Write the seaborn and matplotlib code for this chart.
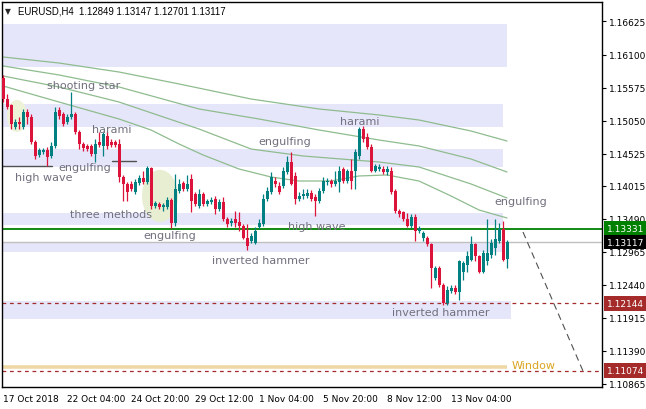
import numpy as np
import pandas as pd
import seaborn as sns
import matplotlib.pyplot as plt
from matplotlib.patches import Ellipse

# ---- candle data (EURUSD H4) ----
opens = [1.1572, 1.1540, 1.1529, 1.1495, 1.1503, 1.1495, 1.1519, 1.1511, 1.1471, 1.1450,
         1.1455, 1.1458, 1.1449, 1.1465, 1.1521, 1.1516, 1.1503, 1.1511, 1.1516, 1.1487,
         1.1468, 1.1465, 1.1465, 1.1452, 1.1471, 1.1465, 1.1481, 1.1471, 1.1471, 1.1468,
         1.1415, 1.1404, 1.1404, 1.1391, 1.1406, 1.1414, 1.1407, 1.1430, 1.1369, 1.1372,
         1.1367, 1.1367, 1.1378, 1.1342, 1.1393, 1.1406, 1.1396, 1.1412, 1.1388, 1.1369,
         1.1388, 1.1372, 1.1375, 1.1380, 1.1364, 1.1375, 1.1348, 1.1342, 1.1348, 1.1343,
         1.1337, 1.1319, 1.1313, 1.1311, 1.1335, 1.1340, 1.1380, 1.1391, 1.1409, 1.1401,
         1.1401, 1.1423, 1.1439, 1.1417, 1.1380, 1.1385, 1.1385, 1.1390, 1.1383, 1.1377,
         1.1393, 1.1407, 1.1409, 1.1404, 1.1407, 1.1428, 1.1409, 1.1425, 1.1425, 1.1449,
         1.1492, 1.1479, 1.1463, 1.1425, 1.1428, 1.1428, 1.1423, 1.1425, 1.1393, 1.1361,
         1.1359, 1.1348, 1.1337, 1.1351, 1.1329, 1.1318, 1.1318, 1.1308, 1.1255, 1.1271,
         1.1244, 1.1215, 1.1234, 1.1239, 1.1233, 1.1265, 1.1276, 1.1284, 1.1308, 1.1289,
         1.1265, 1.1281, 1.1292, 1.1303, 1.1313, 1.1332, 1.12849]
highs = [1.1578, 1.1548, 1.1532, 1.1508, 1.1511, 1.1524, 1.1524, 1.1516, 1.1474, 1.1462,
         1.1462, 1.1463, 1.1471, 1.1527, 1.1527, 1.1519, 1.1516, 1.1551, 1.1519, 1.1490,
         1.1471, 1.1468, 1.1468, 1.1476, 1.1487, 1.1487, 1.1489, 1.1476, 1.1474, 1.1476,
         1.1418, 1.1407, 1.1409, 1.1412, 1.1418, 1.1425, 1.1433, 1.1431, 1.1377, 1.1375,
         1.1374, 1.1383, 1.1382, 1.1420, 1.1412, 1.1409, 1.1418, 1.1420, 1.1391, 1.1396,
         1.1391, 1.1380, 1.1383, 1.1385, 1.1380, 1.1383, 1.1351, 1.1350, 1.1361, 1.1359,
         1.1340, 1.1340, 1.1326, 1.1335, 1.1348, 1.1388, 1.1399, 1.1423, 1.1415, 1.1407,
         1.1431, 1.1449, 1.1455, 1.1423, 1.1391, 1.1396, 1.1396, 1.1394, 1.1388, 1.1398,
         1.1415, 1.1414, 1.1412, 1.1425, 1.1433, 1.1431, 1.1428, 1.1444, 1.1460, 1.1495,
         1.1497, 1.1486, 1.1468, 1.1436, 1.1436, 1.1433, 1.1433, 1.1431, 1.1396, 1.1364,
         1.1361, 1.1358, 1.1356, 1.1356, 1.1337, 1.1330, 1.1321, 1.1311, 1.1274, 1.1274,
         1.1247, 1.1242, 1.1244, 1.1244, 1.1284, 1.1282, 1.1297, 1.1321, 1.1311, 1.1292,
         1.1300, 1.1348, 1.1316, 1.1348, 1.1342, 1.1345, 1.13147]
lows = [1.1535, 1.1524, 1.1492, 1.1492, 1.1492, 1.1492, 1.1500, 1.1468, 1.1444, 1.1447,
        1.1452, 1.1433, 1.1446, 1.1462, 1.1508, 1.1497, 1.1500, 1.1508, 1.1484, 1.1460,
        1.1457, 1.1457, 1.1449, 1.1439, 1.1463, 1.1449, 1.1460, 1.1463, 1.1463, 1.1407,
        1.1377, 1.1377, 1.1393, 1.1388, 1.1402, 1.1404, 1.1404, 1.1364, 1.1366, 1.1364,
        1.1362, 1.1364, 1.1334, 1.1338, 1.1390, 1.1393, 1.1393, 1.1359, 1.1369, 1.1366,
        1.1369, 1.1369, 1.1372, 1.1356, 1.1361, 1.1345, 1.1335, 1.1338, 1.1335, 1.1329,
        1.1316, 1.1300, 1.1310, 1.1308, 1.1332, 1.1337, 1.1377, 1.1388, 1.1399, 1.1388,
        1.1398, 1.1420, 1.1402, 1.1372, 1.1377, 1.1380, 1.1382, 1.1377, 1.1353, 1.1374,
        1.1390, 1.1402, 1.1399, 1.1401, 1.1391, 1.1406, 1.1406, 1.1396, 1.1396, 1.1444,
        1.1471, 1.1460, 1.1423, 1.1423, 1.1425, 1.1420, 1.1418, 1.1388, 1.1358, 1.1351,
        1.1345, 1.1335, 1.1334, 1.1313, 1.1326, 1.1314, 1.1305, 1.1239, 1.1252, 1.1241,
        1.1212, 1.1212, 1.1231, 1.1230, 1.1220, 1.1252, 1.1265, 1.1281, 1.1281, 1.1262,
        1.1262, 1.1276, 1.1287, 1.1292, 1.1310, 1.1281, 1.12701]
closes = [1.1540, 1.1527, 1.1500, 1.1503, 1.1500, 1.1519, 1.1511, 1.1471, 1.1449, 1.1458,
          1.1458, 1.1447, 1.1465, 1.1519, 1.1513, 1.1500, 1.1511, 1.1516, 1.1487, 1.1468,
          1.1462, 1.1460, 1.1452, 1.1468, 1.1466, 1.1484, 1.1465, 1.1466, 1.1466, 1.1415,
          1.1404, 1.1391, 1.1396, 1.1407, 1.1414, 1.1407, 1.1430, 1.1369, 1.1374, 1.1367,
          1.1370, 1.1378, 1.1342, 1.1396, 1.1404, 1.1396, 1.1404, 1.1377, 1.1372, 1.1388,
          1.1372, 1.1377, 1.1378, 1.1364, 1.1375, 1.1348, 1.1340, 1.1345, 1.1342, 1.1337,
          1.1319, 1.1305, 1.1321, 1.1330, 1.1342, 1.1380, 1.1393, 1.1415, 1.1404, 1.1391,
          1.1425, 1.1439, 1.1404, 1.1380, 1.1385, 1.1388, 1.1390, 1.1380, 1.1377, 1.1393,
          1.1409, 1.1409, 1.1404, 1.1409, 1.1425, 1.1409, 1.1425, 1.1409, 1.1455, 1.1492,
          1.1476, 1.1463, 1.1425, 1.1433, 1.1431, 1.1423, 1.1428, 1.1391, 1.1361, 1.1356,
          1.1348, 1.1337, 1.1351, 1.1329, 1.1334, 1.1327, 1.1308, 1.1271, 1.1271, 1.1244,
          1.1215, 1.1236, 1.1239, 1.1233, 1.1281, 1.1279, 1.1289, 1.1308, 1.1289, 1.1265,
          1.1295, 1.1295, 1.1311, 1.1316, 1.1332, 1.1284, 1.13117]

# ---- moving averages (bar index / price) ----
ma1_x = [0, 14, 29, 44, 62, 79, 94, 104, 117, 126]
ma1_y = [1.16061, 1.15965, 1.15822, 1.15632, 1.15393, 1.15234, 1.15139, 1.15059, 1.14884, 1.14725]
ma2_x = [0, 14, 29, 49, 64, 79, 94, 104, 117, 126]
ma2_y = [1.15918, 1.15775, 1.15584, 1.15234, 1.15075, 1.14900, 1.14741, 1.14646, 1.14439, 1.14232]
ma3_x = [0, 14, 29, 49, 62, 75, 94, 104, 117, 126]
ma3_y = [1.15759, 1.15584, 1.15345, 1.14916, 1.14598, 1.14487, 1.14391, 1.14312, 1.14042, 1.13819]
ma4_x = [0, 14, 29, 37, 44, 50, 59, 67, 74, 82, 89, 96, 104, 112, 119, 126]
ma4_y = [1.15600, 1.15345, 1.15075, 1.14900, 1.14678, 1.14503, 1.14280, 1.14153, 1.14089,
         1.14089, 1.14169, 1.14185, 1.14089, 1.13851, 1.13628, 1.13501]

# ---- zones (low, high, last bar) ----
zone_lo = [1.15902, 1.14948, 1.14312, 1.13390, 1.12960, 1.11895]
zone_hi = [1.16586, 1.15314, 1.14598, 1.13580, 1.13119, 1.12181]
zone_end = [126, 125, 125, 125, 125, 127]

# ---- pattern labels ----
label_text = ["shooting star", "harami", "high wave", "engulfing", "three methods", "engulfing",
              "inverted hammer", "engulfing", "harami", "high wave", "inverted hammer", "engulfing"]
label_bar = [11, 22.25, 3, 13.75, 16.75, 35, 52.25, 63.75, 84.25, 71.25, 97.25, 122.75]
label_price = [1.15616, 1.14916, 1.14153, 1.14312, 1.13565, 1.13231, 1.12833, 1.14725,
               1.15043, 1.13374, 1.12006, 1.13771]

# ---- levels ----
resist_level = 1.13331
bid_level = 1.13117
support_levels = [1.12144, 1.11074]
window_level = 1.11132
wave_marks = [(-0.25, 12.25, 1.14328), (27.25, 33.25, 1.14407)]
proj_bars = [130, 145]
proj_prices = [1.13278, 1.11068]

ytick_vals = [1.16625, 1.16100, 1.15575, 1.15050, 1.14525, 1.14015, 1.13490,
              1.12965, 1.12440, 1.11915, 1.11390, 1.10865]
xtick_bars = [0, 16, 32, 48, 64, 80, 96, 112]
xtick_labels = ["17 Oct 2018", "22 Oct 04:00", "24 Oct 20:00", "29 Oct 12:00",
                "1 Nov 04:00", "5 Nov 20:00", "8 Nov 12:00", "13 Nov 04:00"]

sns.set_style("white")
plt.rcParams['font.family'] = ['DejaVu Sans']

fig = plt.figure(figsize=(6.46, 4.10), dpi=100)
ax = fig.add_axes([2 / 646, 22 / 410, 600 / 646, 385 / 410])
ax.set_xlim(-0.25, 149.75)
ax.set_ylim(1.10814, 1.16935)

# zones
for lo, hi, end in zip(zone_lo, zone_hi, zone_end):
    ax.fill_between([-0.25, end], lo, hi, color="#E6E6FA", lw=0, zorder=0.5)

# highlight blobs
ax.add_patch(Ellipse((3.5, 1.15123), 5, 0.0051, color="#EEF2D6", lw=0, zorder=0.8))
ax.add_patch(Ellipse((39.25, 1.13851), 9, 0.0083, color="#E8EED2", lw=0, zorder=0.8))

# moving averages
ma_df = pd.concat([
    pd.DataFrame({"bar": ma1_x, "price": ma1_y, "ma": "ma1"}),
    pd.DataFrame({"bar": ma2_x, "price": ma2_y, "ma": "ma2"}),
    pd.DataFrame({"bar": ma3_x, "price": ma3_y, "ma": "ma3"}),
    pd.DataFrame({"bar": ma4_x, "price": ma4_y, "ma": "ma4"}),
])
sns.lineplot(data=ma_df, x="bar", y="price", units="ma", estimator=None,
             color="#8FBC8F", lw=0.9, ax=ax, zorder=1.5, legend=False)

# horizontal levels
ax.axhline(resist_level, color="#008000", lw=1.3, zorder=2)
ax.axhline(bid_level, color="#C0C0C0", lw=1, zorder=2)
for lv in support_levels:
    ax.axhline(lv, color="#A52A2A", lw=0.9, ls=(0, (3, 3)), zorder=2)
ax.plot([0, 126], [window_level, window_level], color="#EED8A6", lw=2.6, zorder=1.8,
        solid_capstyle="butt")
for x0, x1, lv in wave_marks:
    ax.plot([x0, x1], [lv, lv], color="#505050", lw=1, zorder=2)
ax.plot(proj_bars, proj_prices, color="#505050", lw=0.8, ls=(0, (6, 4)), zorder=2)

# candles
o = np.array(opens)
c = np.array(closes)
h = np.array(highs)
l = np.array(lows)
bars = np.arange(len(o))
cols = np.where(c >= o, "#008080", "#DC143C")
ax.vlines(bars, l, h, colors=cols, lw=0.9, zorder=3)
body = np.maximum(np.abs(c - o), 0.00008)
ax.bar(bars, body, bottom=np.minimum(o, c), width=0.75, color=cols, lw=0, zorder=3.1)

# labels
for txt, bx, py in zip(label_text, label_bar, label_price):
    ax.text(bx, py, txt, fontsize=8, color="#70707E", ha="left", va="center", zorder=4)
ax.text(127.25, 1.11164, "Window", fontsize=8, color="#DAA520", ha="left", va="center", zorder=4)

# title
ax.text(0.005, 0.977, "\u25BC", transform=ax.transAxes, fontsize=5.5, va="center", ha="left")
ax.text(0.027, 0.977, "EURUSD,H4  1.12849 1.13147 1.12701 1.13117", transform=ax.transAxes,
        fontsize=6.9, va="center", ha="left", color="black", family="Liberation Sans")

# axes
for sp in ax.spines.values():
    sp.set_color("black")
    sp.set_linewidth(1)
ax.yaxis.tick_right()
ax.set_yticks(ytick_vals)
ax.set_yticklabels([f"{v:.5f}" for v in ytick_vals])
ax.set_xticks(xtick_bars)
ax.set_xticklabels(xtick_labels)
plt.setp(ax.get_xticklabels(), ha="left")
ax.tick_params(axis="both", direction="out", length=3, width=0.8, labelsize=6.5,
               colors="black", pad=2)
ax.set_xlabel("")
ax.set_ylabel("")

# price tags
tags = [(resist_level, "#008000"), (bid_level, "black"),
        (support_levels[0], "#A52A2A"), (support_levels[1], "#A52A2A")]
for lv, fc in tags:
    ax.text(1.008, lv, f"{lv:.5f}", transform=ax.get_yaxis_transform(), fontsize=6.5,
            color="white", ha="left", va="center", zorder=10,
            bbox=dict(boxstyle="square,pad=0.3", fc=fc, ec="none"))

fig.savefig("out.png", dpi=100, facecolor="white")
